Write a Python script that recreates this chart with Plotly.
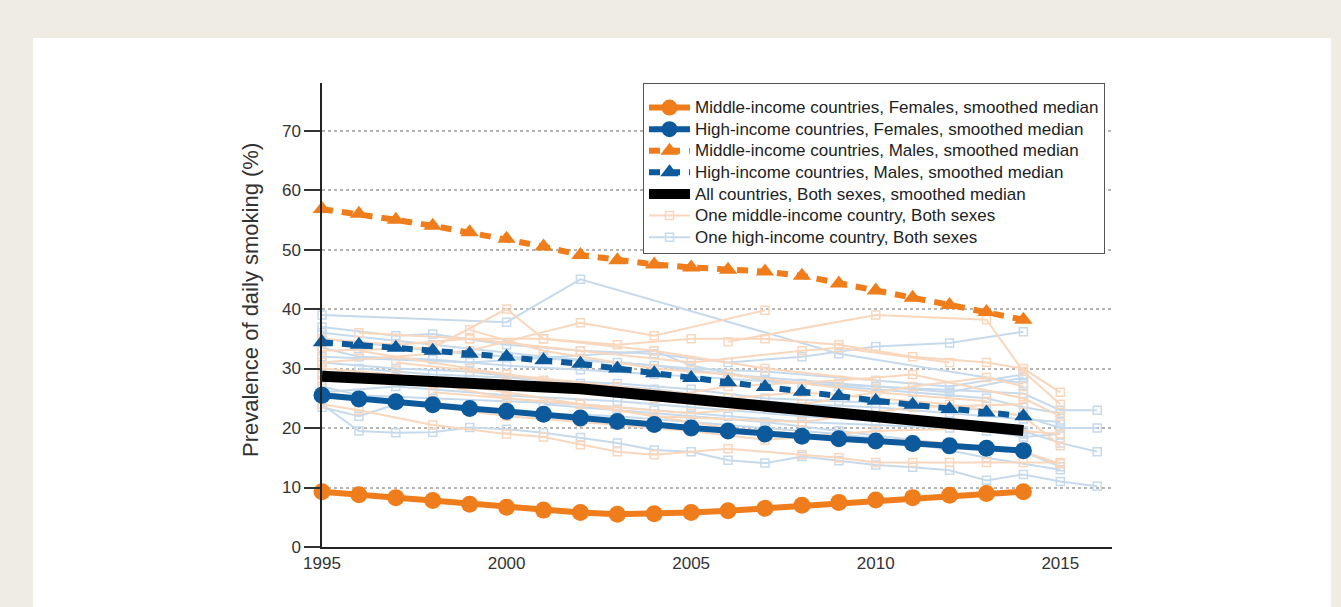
import plotly.graph_objects as go

years = list(range(1995, 2015))

mid_fem = [9.3, 8.8, 8.3, 7.8, 7.2, 6.7, 6.2, 5.8, 5.5, 5.6, 5.8, 6.1, 6.5, 7.0, 7.5, 7.9, 8.3, 8.7, 9.0, 9.3]
high_fem = [25.5, 24.9, 24.4, 23.9, 23.3, 22.8, 22.3, 21.7, 21.1, 20.6, 20.0, 19.5, 19.0, 18.6, 18.2, 17.8, 17.4, 17.0, 16.6, 16.2]
mid_male = [56.8, 56.0, 55.0, 54.0, 52.9, 51.8, 50.5, 49.1, 48.2, 47.5, 47.0, 46.6, 46.3, 45.6, 44.3, 43.1, 41.9, 40.7, 39.5, 38.2]
high_male = [34.4, 34.0, 33.5, 33.0, 32.5, 32.0, 31.4, 30.8, 30.0, 29.2, 28.4, 27.7, 26.9, 26.1, 25.4, 24.6, 23.9, 23.2, 22.6, 22.0]
all_both = [28.7, 28.4, 28.2, 27.9, 27.7, 27.4, 27.1, 26.6, 26.0, 25.4, 24.8, 24.2, 23.6, 23.0, 22.4, 21.8, 21.3, 20.7, 20.2, 19.6]

# individual countries (years, values)
high_countries = [
    ([1995, 2000, 2002, 2009, 2014], [39.0, 37.8, 45.0, 32.5, 27.5]),
    ([1995, 1997, 1998, 2000, 2002, 2004, 2006, 2008, 2010, 2012, 2014], [37.0, 35.5, 35.8, 34.0, 33.0, 32.5, 31.0, 32.0, 33.7, 34.3, 36.2]),
    ([1995, 1996, 1997, 1998, 1999, 2000, 2001, 2002, 2003, 2004, 2005, 2006, 2007, 2008, 2009, 2010, 2011, 2012, 2013, 2014, 2015, 2016],
     [24.0, 19.5, 19.2, 19.3, 20.1, 19.8, 19.2, 18.4, 17.5, 16.3, 16.0, 14.6, 14.1, 15.2, 14.5, 13.8, 13.4, 12.9, 11.2, 12.2, 11.0, 10.2]),
    ([1995, 1996, 1998, 2000, 2002, 2004, 2006, 2008, 2010, 2012, 2014, 2015, 2016], [33.5, 32.0, 31.5, 30.5, 29.8, 29.0, 28.2, 27.5, 27.0, 26.4, 25.8, 23.0, 23.0]),
    ([1995, 1997, 1999, 2001, 2003, 2005, 2007, 2009, 2011, 2013, 2014, 2015, 2016], [31.0, 30.0, 29.5, 28.0, 27.5, 26.5, 25.0, 24.5, 24.0, 23.0, 22.0, 20.0, 20.0]),
    ([1995, 1996, 1998, 2000, 2002, 2004, 2006, 2008, 2010, 2012, 2014, 2015, 2016], [27.0, 25.5, 25.0, 24.5, 24.0, 23.0, 22.0, 21.0, 20.5, 20.0, 19.5, 17.5, 16.0]),
    ([1995, 1996, 1997, 1999, 2001, 2003, 2005, 2007, 2009, 2011, 2013, 2015], [23.5, 22.0, 24.0, 23.5, 22.5, 22.0, 21.0, 20.0, 19.0, 17.5, 15.0, 13.0]),
    ([1995, 1998, 2000, 2003, 2005, 2007, 2010, 2012, 2014], [35.0, 33.0, 32.0, 31.0, 30.0, 29.5, 28.0, 27.0, 29.0]),
    ([1995, 1997, 1999, 2001, 2003, 2005, 2006, 2008, 2010, 2012, 2014], [29.0, 28.5, 28.0, 27.0, 26.0, 25.0, 24.5, 23.5, 22.0, 20.5, 19.0]),
    ([1996, 1998, 2000, 2002, 2004, 2006, 2008, 2010, 2012, 2014, 2015], [30.0, 29.0, 28.5, 27.5, 26.5, 25.0, 24.0, 23.5, 22.5, 21.5, 21.0]),
    ([1995, 1997, 2000, 2003, 2005, 2008, 2011, 2013, 2014, 2015], [26.0, 27.0, 25.5, 24.5, 23.5, 22.0, 21.0, 19.5, 18.5, 19.0]),
    ([1995, 1999, 2004, 2005, 2007, 2009, 2011, 2013, 2014, 2015], [32.0, 31.0, 33.0, 30.5, 28.0, 27.0, 26.0, 25.0, 23.5, 22.5]),
    ([2001, 2003, 2005, 2007, 2009, 2011, 2014, 2015], [24.0, 23.0, 22.0, 21.0, 19.5, 18.0, 16.0, 13.5]),
    ([1995, 1998, 2001, 2004, 2006, 2009, 2012, 2014], [36.0, 34.0, 32.0, 30.5, 29.0, 27.5, 26.0, 28.5]),
]

mid_countries = [
    ([1995, 1998, 2000, 2001, 2004, 2007, 2010], [33.0, 33.5, 40.0, 35.0, 33.0, 30.0, 28.0]),
    ([1995, 1999, 2002, 2004, 2007], [31.0, 33.0, 37.7, 35.5, 39.8]),
    ([2006, 2010, 2013, 2014, 2015], [34.5, 39.0, 38.2, 29.5, 24.0]),
    ([1995, 1996, 1998, 2000, 2001, 2002, 2003, 2004, 2006, 2008, 2009, 2010, 2011, 2012, 2013, 2014, 2015],
     [24.0, 23.0, 20.5, 19.0, 18.5, 17.2, 16.0, 15.5, 16.5, 15.5, 15.0, 14.2, 14.2, 14.2, 14.2, 14.2, 14.2]),
    ([1995, 1997, 1999, 2001, 2003, 2005, 2007, 2009, 2011, 2013, 2014, 2015], [35.0, 34.0, 35.0, 35.0, 34.0, 35.0, 35.0, 34.0, 32.0, 31.0, 30.0, 26.0]),
    ([1996, 1999, 2002, 2005, 2008, 2009, 2012], [36.0, 35.0, 33.0, 31.0, 33.0, 33.5, 31.0]),
    ([1995, 1997, 2000, 2003, 2006, 2009, 2012, 2014, 2015], [30.0, 29.0, 26.0, 23.0, 20.0, 18.5, 17.5, 16.0, 14.0]),
    ([1995, 1998, 2000, 2002, 2005, 2008, 2011, 2013, 2014], [28.0, 27.5, 25.0, 24.0, 22.5, 24.0, 27.0, 28.5, 27.0]),
    ([1996, 1999, 2001, 2004, 2006, 2009, 2011, 2014, 2015], [33.0, 30.0, 28.0, 25.0, 27.0, 28.0, 29.0, 25.0, 22.0]),
    ([1995, 2000, 2002, 2005, 2007, 2010, 2013, 2015], [26.0, 22.0, 21.0, 19.5, 18.0, 19.5, 20.0, 19.0]),
    ([1997, 2000, 2003, 2006, 2008, 2012, 2014, 2015], [31.0, 29.0, 27.0, 25.0, 26.0, 24.0, 22.0, 17.0]),
    ([1999, 2001, 2004, 2006, 2010, 2013], [36.5, 33.0, 30.0, 29.0, 26.0, 24.5]),
    ([1998, 2002, 2004, 2008, 2011, 2014], [26.0, 24.0, 22.0, 21.0, 23.5, 24.0]),
]

ORANGE = "#EF7D1B"
BLUE = "#0C5A9C"
LORANGE = "#F9D7BD"
LBLUE = "#C7DAEB"


def lbl(t):
    return '<span style="font-size:17px">' + t + '</span>'


fig = go.Figure()

for i, (xs, ys) in enumerate(high_countries):
    fig.add_trace(go.Scatter(
        x=xs, y=ys, mode="lines+markers",
        line=dict(color=LBLUE, width=2),
        marker=dict(symbol="square-open", size=8, color=LBLUE, line=dict(width=1.5)),
        name=lbl("One high-income country, Both sexes"), legendgroup="high1",
        showlegend=(i == 0), legendrank=7, cliponaxis=False, hoverinfo="skip"))

for i, (xs, ys) in enumerate(mid_countries):
    fig.add_trace(go.Scatter(
        x=xs, y=ys, mode="lines+markers",
        line=dict(color=LORANGE, width=2),
        marker=dict(symbol="square-open", size=8, color=LORANGE, line=dict(width=1.5)),
        name=lbl("One middle-income country, Both sexes"), legendgroup="mid1",
        showlegend=(i == 0), legendrank=6, cliponaxis=False, hoverinfo="skip"))

fig.add_trace(go.Scatter(
    x=years, y=mid_fem, mode="lines+markers", name=lbl("Middle-income countries, Females, smoothed median"),
    line=dict(color=ORANGE, width=6), marker=dict(symbol="circle", size=17, color=ORANGE),
    legendrank=1, cliponaxis=False))
fig.add_trace(go.Scatter(
    x=years, y=high_fem, mode="lines+markers", name=lbl("High-income countries, Females, smoothed median"),
    line=dict(color=BLUE, width=6), marker=dict(symbol="circle", size=17, color=BLUE),
    legendrank=2, cliponaxis=False))
fig.add_trace(go.Scatter(
    x=years, y=mid_male, mode="lines+markers", name=lbl("Middle-income countries, Males, smoothed median"),
    line=dict(color=ORANGE, width=6, dash="11px,9px"), marker=dict(symbol="triangle-up", size=16, color=ORANGE),
    legendrank=3, cliponaxis=False))
fig.add_trace(go.Scatter(
    x=years, y=high_male, mode="lines+markers", name=lbl("High-income countries, Males, smoothed median"),
    line=dict(color=BLUE, width=6, dash="11px,9px"), marker=dict(symbol="triangle-up", size=16, color=BLUE),
    legendrank=4, cliponaxis=False))
fig.add_trace(go.Scatter(
    x=years, y=all_both, mode="lines", name=lbl("All countries, Both sexes, smoothed median"),
    line=dict(color="black", width=11), legendrank=5, cliponaxis=False))

W, H = 1341, 607
L, R, T, B = 322, 229, 83, 60
pw, ph = W - L - R, H - T - B


def px_x(p):
    return (p - L) / pw


def px_y(p):
    return (H - B - p) / ph


fig.add_shape(type="rect", xref="paper", yref="paper",
              x0=px_x(33), x1=px_x(1331), y0=px_y(640), y1=px_y(38),
              fillcolor="white", line=dict(width=0), layer="below")

fig.add_annotation(text="Prevalence of daily smoking (%)", xref="paper", yref="paper",
                   x=px_x(250), y=px_y(300), textangle=-90, showarrow=False,
                   xanchor="center", yanchor="middle",
                   font=dict(family="Liberation Sans, Arial", size=22, color="#333333"))

fig.update_layout(
    width=W, height=H,
    margin=dict(l=L, r=R, t=T, b=B),
    paper_bgcolor="#EFEDE3",
    plot_bgcolor="white",
    font=dict(family="Liberation Sans, Arial", color="#222222"),
    showlegend=True,
    legend=dict(x=px_x(643), y=1.0, xanchor="left", yanchor="top",
                bgcolor="white", bordercolor="#555555", borderwidth=1,
                itemwidth=41,
                title=dict(text=" ", font=dict(size=6)),
                font=dict(size=14.3, color="#222222"), traceorder="normal"),
    xaxis=dict(range=[1995, 2016.4], tickvals=[1995, 2000, 2005, 2010, 2015],
               showgrid=False, zeroline=False, showline=True, linecolor="#222222", linewidth=2,
               ticks="", tickfont=dict(size=17, color="#333333")),
    yaxis=dict(range=[0, 78], tickvals=[0, 10, 20, 30, 40, 50, 60, 70],
               showgrid=True, gridcolor="#B5B5B5", gridwidth=1.5, griddash="dot",
               zeroline=False, showline=True, linecolor="#222222", linewidth=1.5,
               ticks="outside", ticklen=16, tickwidth=1.5, tickcolor="#333333",
               tickfont=dict(size=17, color="#333333")),
)

fig.write_html("out.html", config={"displayModeBar": False},
               post_script="document.body.style.margin='0px';")
